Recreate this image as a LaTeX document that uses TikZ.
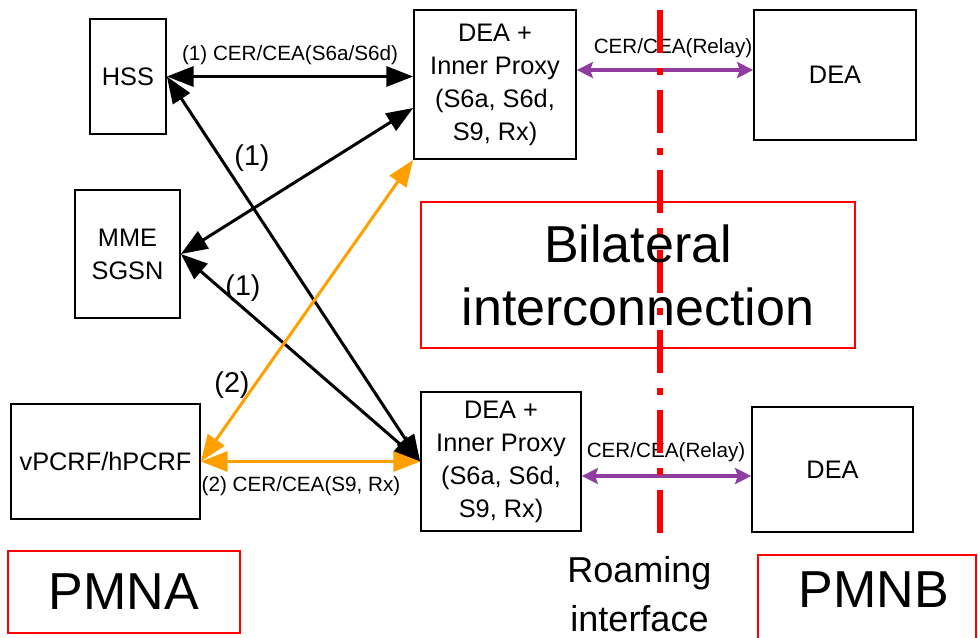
\documentclass[tikz,border=0pt]{standalone}
\usepackage{fontspec}
\setmainfont{Liberation Sans}
\usetikzlibrary{arrows.meta,calc}
\definecolor{myorange}{RGB}{255,160,0}
\definecolor{mypurple}{RGB}{145,60,160}
\definecolor{myred}{RGB}{255,0,0}
\begin{document}
\begin{tikzpicture}[x=0.75pt,y=-0.75pt,
  box/.style={draw=black,line width=1.3pt,inner sep=0pt,align=center,font=\fontsize{19}{24.75}\selectfont},
  redbox/.style={draw=myred,line width=1.3pt,inner sep=0pt,align=center},
  bigtxt/.style={font=\fontsize{39}{47.25}\selectfont,align=center,inner sep=0pt},
  blk/.style={line width=2.25pt,{Triangle[length=20pt,width=15pt]}-{Triangle[length=20pt,width=15pt]}},
  orn/.style={draw=myorange,line width=2.25pt,{Triangle[length=20pt,width=15pt]}-{Triangle[length=20pt,width=15pt]}},
  prp/.style={draw=mypurple,line width=3pt,{Stealth[length=12pt,width=12pt,inset=2pt]}-{Stealth[length=12pt,width=12pt,inset=2pt]}},
  lbl/.style={font=\fontsize{15.5}{18}\selectfont,inner sep=0pt},
  num/.style={font=\fontsize{21.5}{24}\selectfont,inner sep=0pt},
  roamline/.style={draw=myred,line width=4.5pt,dash pattern=on 32.25pt off 11.25pt on 5.25pt off 11.25pt}
]
\useasboundingbox (0,0) rectangle (978,637);
\clip (0,0) rectangle (978,637);

% boxes
\node[box,minimum width=57pt,minimum height=86.25pt] (hss) at (128,76.5) {HSS};
\node[box,minimum width=121.5pt,minimum height=111.75pt] (dea1) at (495,84.5) {DEA +\\Inner Proxy\\(S6a, S6d,\\S9, Rx)};
\node[box,minimum width=121.5pt,minimum height=97.5pt] (dear1) at (835,75) {DEA};
\node[box,minimum width=78.75pt,minimum height=96pt] (mme) at (127.5,254) {MME\\SGSN};
\node[box,minimum width=141.75pt,minimum height=86.25pt] (vpcrf) at (105.5,461.5) {vPCRF/hPCRF};
\node[box,minimum width=120pt,minimum height=104.25pt] (dea2) at (501,461.5) {DEA +\\Inner Proxy\\(S6a, S6d,\\S9, Rx)};
\node[box,minimum width=120.75pt,minimum height=93.75pt] (dear2) at (832.5,469.5) {DEA};

% connectors
\draw[blk] (hss.east) -- (hss.east -| dea1.west);
\draw[blk] (dea2.west) -- (hss.east);
\draw[blk] (dea2.west) -- (mme.east);
\draw[blk] (mme.east) -- ($(dea1.west)+(0,23.5)$);
\draw[orn] (vpcrf.east) -- (dea1.south west);
\draw[orn] (vpcrf.east) -- (dea2.west);
\coordinate (p1) at ($(dea1.east)+(0,-14.5)$);
\coordinate (p2) at ($(dea2.east)+(0,14.5)$);
\draw[prp] (p1) -- (p1 -| dear1.west);
\draw[prp] (p2) -- (p2 -| dear2.west);

% labels
\node[lbl] (l1) at (290,55) {(1) CER/CEA(S6a/S6d)};
\node[num] (n1) at (252,158) {(1)};
\node[num] (n2) at (243,288) {(1)};
\node[num] (n3) at (232,385) {(2)};
\node[lbl] (l2) at (301,486) {(2) CER/CEA(S9, Rx)};
\node[lbl] (l3) at (673,48) {CER/CEA(Relay)};
\node[lbl] (l4) at (666,452) {CER/CEA(Relay)};

% roaming interface line
\coordinate (rtop) at (660,10);
\coordinate (rbot) at (660,545);
\draw[roamline] (rtop) -- (rbot);

% red boxes
\node[redbox,bigtxt,minimum width=325.5pt,minimum height=109.5pt] (bil) at (638,275) {Bilateral\\interconnection};
\node[redbox,bigtxt,minimum width=174pt,minimum height=61.5pt] (pmna) at (124,592) {PMNA};
\node[redbox,minimum width=163.5pt,minimum height=93.75pt] (pmnb) at (867,617.5) {};
\node[bigtxt] (pmnbt) at (874,590) {PMNB};
\node[font=\fontsize{27}{36.75}\selectfont,align=center,inner sep=0pt] (roam) at (639.5,594) {Roaming\\interface};
\end{tikzpicture}
\end{document}
